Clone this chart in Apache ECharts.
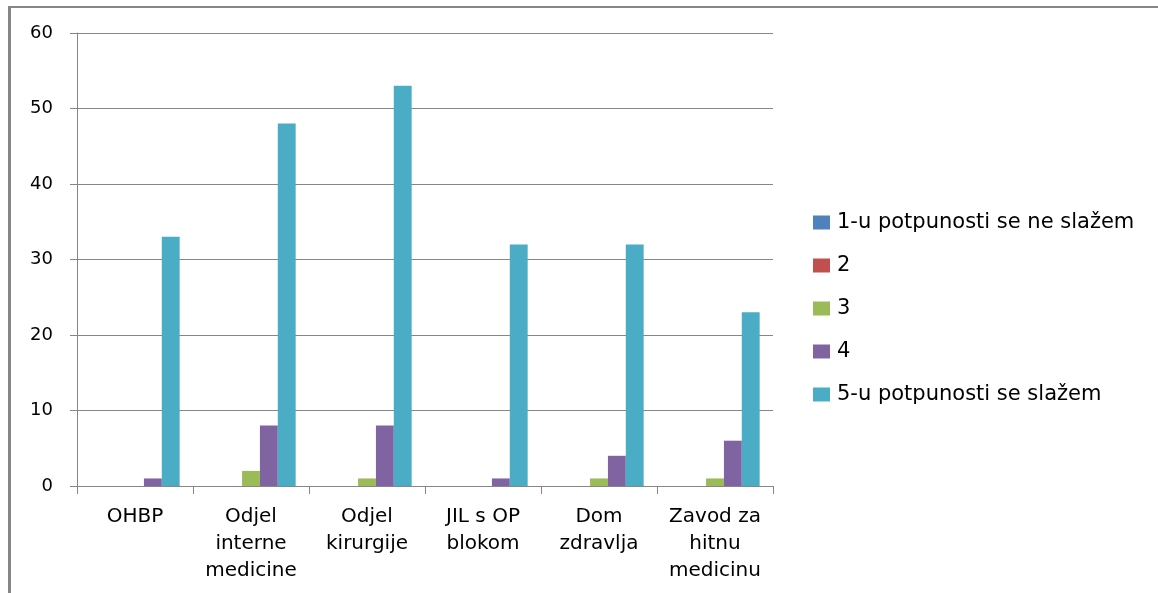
<!DOCTYPE html>
<html><head><meta charset="utf-8">
<script src="https://cdn.jsdelivr.net/npm/echarts@6/dist/echarts.min.js"></script>
<style>html,body{margin:0;padding:0;background:#fff}#c{width:1158px;height:593px}</style>
</head><body><div id="c"></div>
<script>
var categories = ['OHBP', 'Odjel\ninterne\nmedicine', 'Odjel\nkirurgije', 'JIL s OP\nblokom', 'Dom\nzdravlja', 'Zavod za\nhitnu\nmedicinu'];
var seriesNames = ['1-u potpunosti se ne slažem', '2', '3', '4', '5-u potpunosti se slažem'];
var s1 = [0, 0, 0, 0, 0, 0];
var s2 = [0, 0, 0, 0, 0, 0];
var s3 = [0, 2, 1, 0, 1, 1];
var s4 = [1, 8, 8, 1, 4, 6];
var s5 = [33, 48, 53, 32, 32, 23];
var yTicks = {min: 0, max: 60, interval: 10};

var colors = ['#4F81BD', '#C0504D', '#9BBB59', '#8064A2', '#4BACC6'];
var values = [s1, s2, s3, s4, s5];
var font = '"DejaVu Sans", sans-serif';
var chart = echarts.init(document.getElementById('c'), null, {renderer: 'canvas'});
chart.setOption({
  animation: false,
  color: colors,
  textStyle: {fontFamily: font},
  graphic: [
    {type: 'rect', shape: {x: 8, y: 7, width: 3, height: 590}, style: {fill: '#868686'}, silent: true},
    {type: 'rect', shape: {x: 8, y: 6, width: 1150, height: 2}, style: {fill: '#868686'}, silent: true}
  ],
  grid: {left: 77, right: 385, top: 33, bottom: 107, containLabel: false},
  legend: {
    orient: 'vertical', left: 808, top: 207,
    itemWidth: 17, itemHeight: 14, itemGap: 22,
    icon: 'rect',
    textStyle: {fontSize: 21, lineHeight: 21, color: '#000', fontFamily: font, padding: [0, 0, 0, 2]},
    data: seriesNames
  },
  xAxis: {
    type: 'category', data: categories,
    axisLine: {lineStyle: {color: '#868686', width: 1}},
    axisTick: {show: true, length: 8, lineStyle: {color: '#868686'}},
    axisLabel: {interval: 0, fontSize: 20, lineHeight: 27, color: '#000', margin: 17, fontFamily: font},
    splitLine: {show: false}
  },
  yAxis: {
    type: 'value', min: yTicks.min, max: yTicks.max, interval: yTicks.interval,
    axisLine: {show: true, lineStyle: {color: '#868686'}},
    axisTick: {show: true, length: 7, lineStyle: {color: '#868686'}},
    axisLabel: {fontSize: 18, color: '#000', margin: 24, fontFamily: font},
    splitLine: {show: true, lineStyle: {color: '#868686', width: 1}}
  },
  series: seriesNames.map(function (n, i) {
    return {name: n, type: 'bar', data: values[i], barGap: '0%', barCategoryGap: '23%',
      itemStyle: {color: colors[i]}};
  })
});
</script></body></html>
